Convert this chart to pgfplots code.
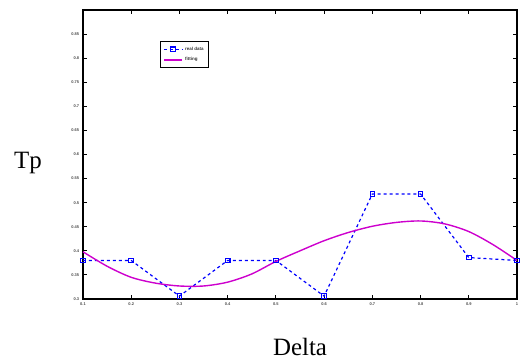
\documentclass[border=0pt]{standalone}
\usepackage{pgfplots}
\pgfplotsset{compat=1.18}
\usepackage{fontspec}
\setmainfont{Liberation Serif}
\newfontfamily\sans{Liberation Sans}
\begin{document}
\begin{tikzpicture}
\begin{axis}[
  name=ax,
  scale only axis,
  width=434bp, height=289bp,
  xmin=0.1, xmax=1.0, ymin=0.3, ymax=0.9,
  xtick={0.1,0.2,...,1.0},
  ytick={0.3,0.35,...,0.851},
  tick align=inside,
  major tick length=4bp,
  every axis/.append style={line width=1.2pt},
  axis line style={line width=1.2pt, black},
  every tick/.style={black, line width=1pt},
  tick label style={font=\sans\bfseries\fontsize{4}{4}\selectfont, black!70},
  /pgf/number format/assume math mode=true,
  yticklabel style={/pgf/number format/.cd, fixed, precision=2},
  xticklabel style={/pgf/number format/.cd, fixed, precision=1},
  legend style={at={(axis description cs:0.177,0.893)}, anchor=north west,
    font=\sans\bfseries\fontsize{4.5}{4.5}\selectfont, draw=black, line width=1pt,
    inner xsep=3pt, inner ysep=3.5pt, row sep=2pt, text=black!80},
  legend image code/.code={\draw[#1] (0pt,0pt) -- (0.65cm,0pt); \draw[#1, only marks] plot coordinates {(0.32cm,0pt)};},
  legend cell align=left,
  legend columns=1,
  clip=false,
]
\addplot[blue, dashed, line width=1.2pt, mark=square, mark size=2.3pt, mark options={solid, line width=1.1pt}]
  coordinates {(0.1,0.38) (0.2,0.38) (0.3,0.306) (0.4,0.38) (0.5,0.38) (0.6,0.306) (0.7,0.518) (0.8,0.518) (0.9,0.386) (1.0,0.38)};
\addlegendentry{real data\hspace{12pt}}
\addplot[color={rgb,255:red,205;green,0;blue,205}, line width=1.4pt, smooth, mark=none]
  coordinates {(0.1,0.398) (0.15,0.368) (0.2,0.345) (0.25,0.333) (0.3,0.327) (0.35,0.327) (0.4,0.335) (0.45,0.352) (0.5,0.378) (0.55,0.400) (0.6,0.421) (0.65,0.438) (0.7,0.451) (0.75,0.459) (0.8,0.462) (0.85,0.456) (0.9,0.440) (0.95,0.413) (1.0,0.38)};
\addlegendentry{fitting}
\end{axis}
\node[font=\fontsize{25}{25}\selectfont] at ([xshift=-55bp, yshift=-9bp]ax.west) {Tp};
\node[font=\fontsize{25}{25}\selectfont] at ([yshift=-48bp, xshift=0bp]ax.south) {Delta};
\path[use as bounding box] ([xshift=-83bp, yshift=-61bp]ax.south west) rectangle ([xshift=8bp, yshift=10bp]ax.north east);
\end{tikzpicture}
\end{document}
